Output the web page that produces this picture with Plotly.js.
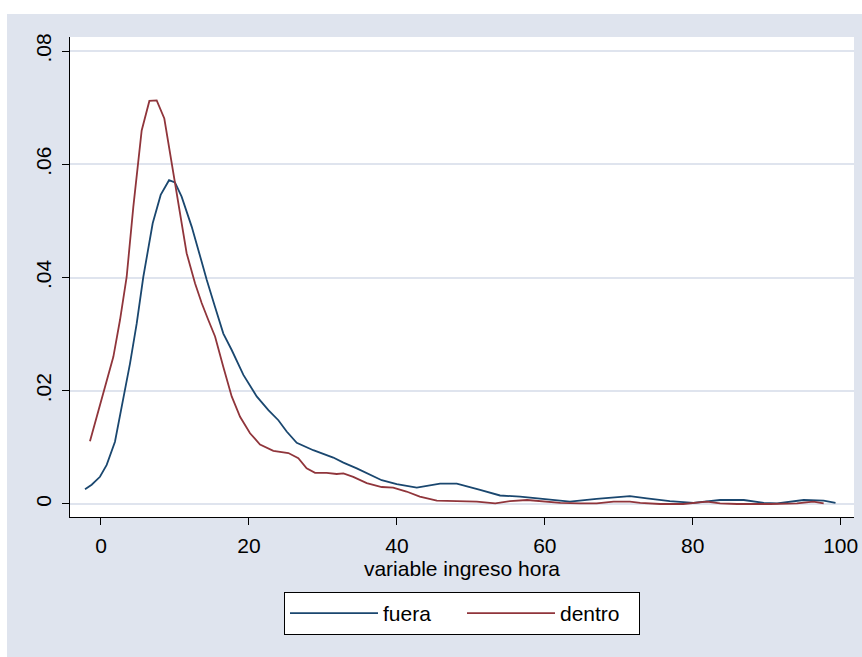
<!DOCTYPE html>
<html>
<head>
<meta charset="utf-8">
<script src="https://cdn.plot.ly/plotly-3.0.1.min.js"></script>
<style>
  html, body { margin: 0; padding: 0; background: #ffffff; width: 862px; height: 657px; overflow: hidden; }
  #chart { position: absolute; left: 7px; top: 14px; width: 855px; height: 643px; }
</style>
</head>
<body>
<div id="chart"></div>
<script>
// ---- data ----
const fueraX = [-2.16, -1.26, -0.14, 0.77, 1.89, 2.57, 3.25, 3.92, 4.83, 5.72, 6.99, 8.07, 9.2, 10.0, 10.9, 12.26, 13.61, 14.29, 15.42, 16.54, 17.67, 19.25, 21.05, 22.63, 23.98, 25.1, 26.46, 28.7, 31.4, 32.77, 34.58, 36.38, 37.95, 39.98, 42.69, 45.84, 48.1, 51.25, 53.95, 56.66, 59.8, 63.4, 67.0, 71.5, 73.8, 76.9, 80.1, 83.7, 86.9, 89.6, 91.4, 95.0, 97.7, 99.3];
const fueraY = [0.0026, 0.0034, 0.0048, 0.0069, 0.0110, 0.0154, 0.0198, 0.0248, 0.0319, 0.0401, 0.0496, 0.0546, 0.0572, 0.0568, 0.0543, 0.0490, 0.0428, 0.0396, 0.0348, 0.0301, 0.0272, 0.0228, 0.0190, 0.0166, 0.0148, 0.0128, 0.0108, 0.0095, 0.0082, 0.0073, 0.0063, 0.0051, 0.0042, 0.0035, 0.0029, 0.0036, 0.0036, 0.0025, 0.0015, 0.0013, 0.0009, 0.0004, 0.0009, 0.0014, 0.0010, 0.0005, 0.0002, 0.0007, 0.0007, 0.0002, 0.0001, 0.0007, 0.0006, 0.0002];

const dentroX = [-1.49, 0.09, 1.67, 2.57, 3.47, 4.37, 5.05, 5.5, 6.54, 7.53, 8.56, 9.55, 10.68, 11.58, 12.71, 13.61, 14.51, 15.42, 16.54, 17.67, 18.8, 20.15, 21.5, 23.3, 25.33, 26.68, 27.8, 28.94, 30.5, 31.87, 32.77, 34.1, 35.93, 37.95, 39.5, 41.3, 43.1, 45.4, 48.1, 50.8, 53.3, 55.3, 57.6, 59.8, 62.1, 64.8, 67.0, 69.3, 71.5, 72.9, 75.6, 78.7, 81.9, 83.7, 86.0, 90.5, 94.1, 96.3, 97.7];
const dentroY = [0.0111, 0.0184, 0.0260, 0.0325, 0.0401, 0.0525, 0.0602, 0.0660, 0.0712, 0.0713, 0.0681, 0.0602, 0.0507, 0.0443, 0.0390, 0.0355, 0.0325, 0.0296, 0.0242, 0.0190, 0.0154, 0.0125, 0.0105, 0.0094, 0.0090, 0.0081, 0.0063, 0.0055, 0.0055, 0.0053, 0.0054, 0.0048, 0.0037, 0.0030, 0.0029, 0.0022, 0.0013, 0.0006, 0.0005, 0.0004, 0.0001, 0.0005, 0.0007, 0.0005, 0.0002, 0.0001, 0.0001, 0.0004, 0.0004, 0.0002, 0.0000, 0.0000, 0.0004, 0.0001, 0.0000, 0.0000, 0.0001, 0.0004, 0.0001];

const seriesNames = ["fuera", "dentro"];
const xTickVals = [0, 20, 40, 60, 80, 100];
const xTickText = ["0", "20", "40", "60", "80", "100"];
const yTickVals = [0, 0.02, 0.04, 0.06, 0.08];
const yTickText = ["0", ".02", ".04", ".06", ".08"];
const xTitle = "variable ingreso hora";

const FONT = "Liberation Sans, Arial, sans-serif";
const BG = "#dfe4ee";

const traces = [
  { x: fueraX, y: fueraY, name: seriesNames[0], type: "scatter", mode: "lines",
    line: { color: "#1a476f", width: 1.8 } },
  { x: dentroX, y: dentroY, name: seriesNames[1], type: "scatter", mode: "lines",
    line: { color: "#90353b", width: 1.8 } }
];

const layout = {
  width: 855, height: 643,
  paper_bgcolor: BG,
  plot_bgcolor: "#ffffff",
  margin: { l: 63, r: 8, t: 23, b: 140, pad: 0 },
  font: { family: FONT, size: 21, color: "#000000" },
  showlegend: true,
  legend: {
    orientation: "h",
    x: 0.5, xanchor: "center",
    y: -0.156, yanchor: "top",
    bgcolor: "#ffffff",
    bordercolor: "#000000",
    borderwidth: 1,
    itemwidth: 88,
    entrywidth: 74,
    entrywidthmode: "pixels",
    font: { family: FONT, size: 21, color: "#000000" }
  },
  xaxis: {
    range: [-4.19, 101.8],
    tickmode: "array", tickvals: xTickVals, ticktext: xTickText,
    showgrid: false, zeroline: false,
    showline: true, linecolor: "#000000", linewidth: 1,
    ticks: "outside", ticklen: 7, tickwidth: 1, tickcolor: "#000000",
    ticklabelstandoff: 3,
    tickfont: { family: FONT, size: 21, color: "#000000" },
    title: { text: xTitle, font: { family: FONT, size: 21, color: "#000000" }, standoff: 0 }
  },
  yaxis: {
    range: [-0.0023, 0.0825],
    tickmode: "array", tickvals: yTickVals, ticktext: yTickText,
    tickangle: -90,
    showgrid: true, gridcolor: BG, gridwidth: 2,
    zeroline: false,
    showline: true, linecolor: "#000000", linewidth: 1,
    ticks: "outside", ticklen: 7, tickwidth: 1, tickcolor: "#000000",
    ticklabelstandoff: 3,
    tickfont: { family: FONT, size: 21, color: "#000000" }
  }
};

Plotly.newPlot("chart", traces, layout, { displayModeBar: false, staticPlot: true });
</script>
</body>
</html>
